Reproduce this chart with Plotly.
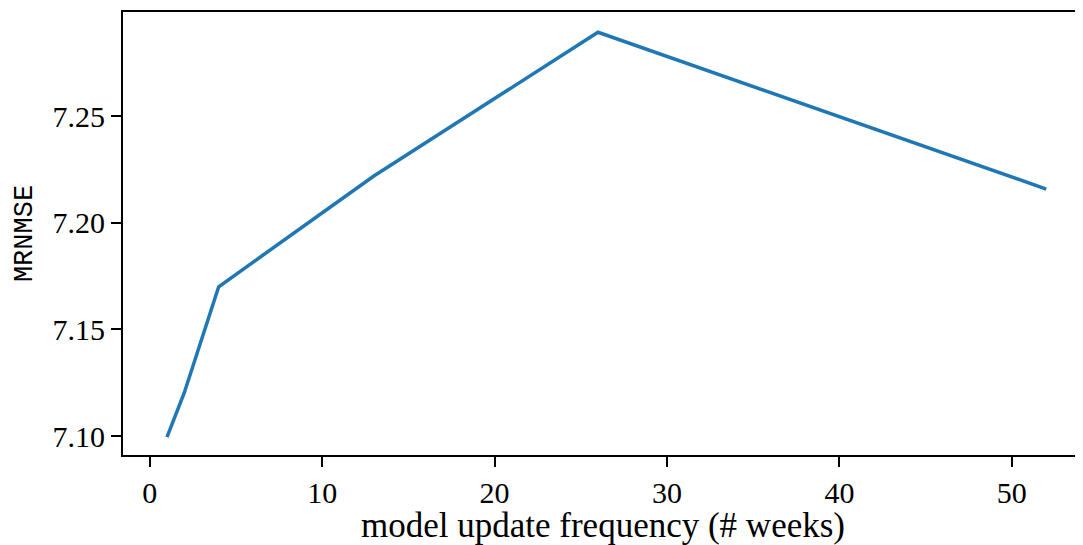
import plotly.graph_objects as go

# update frequency in weeks vs. error
weeks = [1, 2, 4, 13, 26, 52]
mrnmse = [7.0995, 7.1202, 7.1700, 7.2219, 7.2893, 7.2158]

x_ticks = [0, 10, 20, 30, 40, 50]
y_ticks = [7.10, 7.15, 7.20, 7.25]

serif = "Liberation Serif"
mono = "Liberation Mono"

# page body has an 8px margin, so size/margins are shifted to compensate
fig = go.Figure()
fig.add_trace(go.Scatter(x=weeks, y=mrnmse, mode="lines",
                         line=dict(color="#1f77b4", width=3.5)))

fig.update_layout(
    width=1075, height=537,
    margin=dict(l=115, r=0, t=4, b=90),
    plot_bgcolor="white", paper_bgcolor="white",
    showlegend=False,
    font=dict(family=serif, size=30, color="black"),
)

fig.update_xaxes(
    range=[-1.55, 54.13],
    tickvals=x_ticks,
    tickfont=dict(family=serif, size=30, color="black"),
    ticks="outside", ticklen=10, tickwidth=2, tickcolor="black",
    showline=True, linecolor="black", linewidth=2, mirror=True,
    showgrid=False, zeroline=False, automargin=False,
    title=dict(text="model update frequency (# weeks)", standoff=7,
               font=dict(family=serif, size=35)),
)
fig.update_yaxes(
    range=[7.0911, 7.2988],
    tickvals=y_ticks, tickformat=".2f",
    tickfont=dict(family=serif, size=30, color="black"),
    ticks="outside", ticklen=10, tickwidth=2, tickcolor="black",
    showline=True, linecolor="black", linewidth=2,
    showgrid=False, zeroline=False, automargin=False,
    title=dict(text="MRNMSE", standoff=12,
               font=dict(family=mono, size=27)),
)

fig.write_html("out.html")
